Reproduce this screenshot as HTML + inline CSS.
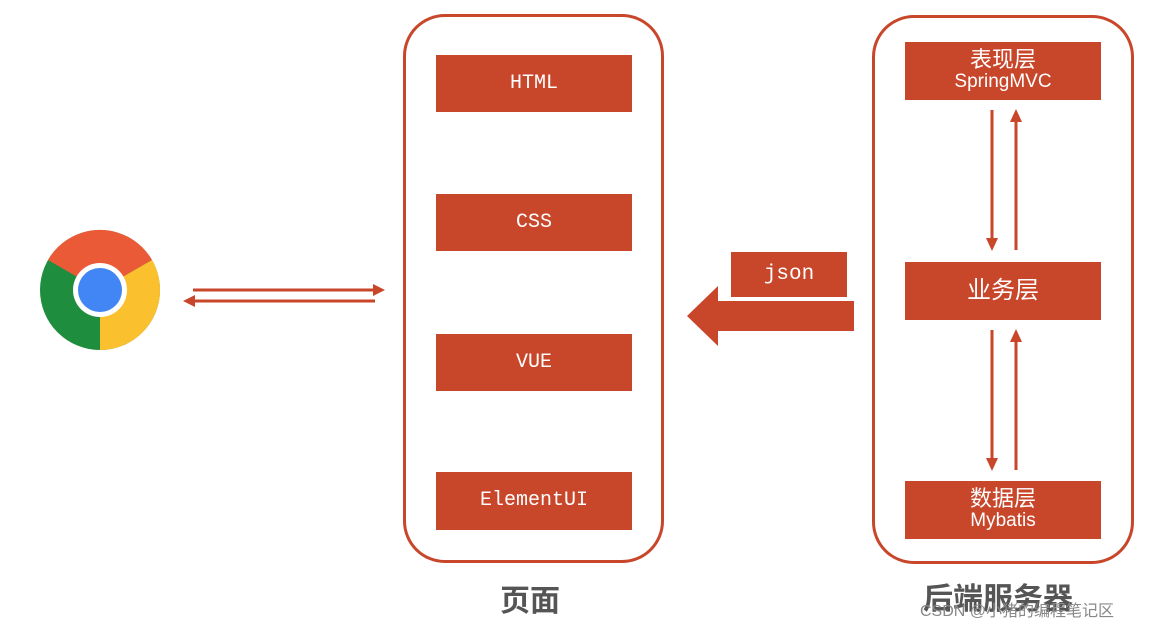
<!DOCTYPE html>
<html><head><meta charset="utf-8"><style>
body{margin:0;width:1149px;height:626px;background:#fff;overflow:hidden;position:relative;font-family:"Liberation Sans","Noto Sans CJK SC",sans-serif}
.c{position:absolute;border:3px solid #c8462a;border-radius:42px;box-sizing:border-box}
.b{position:absolute;background:#c8462a;color:#fff;display:flex;flex-direction:column;align-items:center;justify-content:center;font-size:20px;line-height:22px}
.m{font-family:"Liberation Mono","DejaVu Sans Mono",monospace}
.l{position:absolute;font-weight:bold;color:#555;font-size:30px;font-family:"Noto Sans CJK SC",sans-serif}
</style></head><body>
<div class="c" style="left:403px;top:14px;width:261px;height:549px"></div>
<div class="c" style="left:872px;top:15px;width:262px;height:549px"></div>
<div class="b m" style="left:436px;top:55px;width:196px;height:57px">HTML</div>
<div class="b m" style="left:436px;top:194px;width:196px;height:57px">CSS</div>
<div class="b m" style="left:436px;top:334px;width:196px;height:57px">VUE</div>
<div class="b m" style="left:436px;top:472px;width:196px;height:58px">ElementUI</div>
<div class="b" style="left:905px;top:42px;width:196px;height:58px;font-size:22px"><span>表现层</span><span style="font-size:19px">SpringMVC</span></div>
<div class="b" style="left:905px;top:262px;width:196px;height:58px;font-size:24px">业务层</div>
<div class="b" style="left:905px;top:481px;width:196px;height:58px;font-size:22px"><span>数据层</span><span style="font-size:19px">Mybatis</span></div>
<div class="b m" style="left:731px;top:252px;width:116px;height:45px;font-size:21px">json</div>
<svg width="1149" height="626" style="position:absolute;left:0;top:0">
<g fill="#c8462a" stroke="none">
<polygon points="687,316 718,286 718,301 854,301 854,331 718,331 718,346"/>
</g>
<g stroke="#c8462a" stroke-width="3" fill="none">
<line x1="193" y1="290" x2="375" y2="290"/><line x1="193" y1="301" x2="375" y2="301"/>
<line x1="992" y1="110" x2="992" y2="240"/><line x1="1016" y1="120" x2="1016" y2="250"/>
<line x1="992" y1="330" x2="992" y2="460"/><line x1="1016" y1="340" x2="1016" y2="470"/>
</g>
<g fill="#c8462a">
<polygon points="385,290 373,284 373,296"/><polygon points="183,301 195,295 195,307"/>
<polygon points="992,251 986,238 998,238"/><polygon points="1016,109 1010,122 1022,122"/>
<polygon points="992,471 986,458 998,458"/><polygon points="1016,329 1010,342 1022,342"/>
</g>
<circle cx="100" cy="290" r="60" fill="#1e8e3e"/>
<path d="M100,290 L48,260 A60,60 0 0 1 152,260 Z" fill="#ea5a36"/>
<path d="M100,290 L152,260 A60,60 0 0 1 100,350 Z" fill="#fbc02d"/>
<circle cx="100" cy="290" r="27" fill="#fff"/>
<circle cx="100" cy="290" r="22" fill="#4285f4"/>
</svg>
<div class="l" style="left:500px;top:576px">页面</div>
<div class="l" style="left:923px;top:574px">后端服务器</div>
<div style="position:absolute;left:920px;top:597px;font-size:16px;color:#888">CSDN @小猪的编程笔记区</div>
</body></html>
